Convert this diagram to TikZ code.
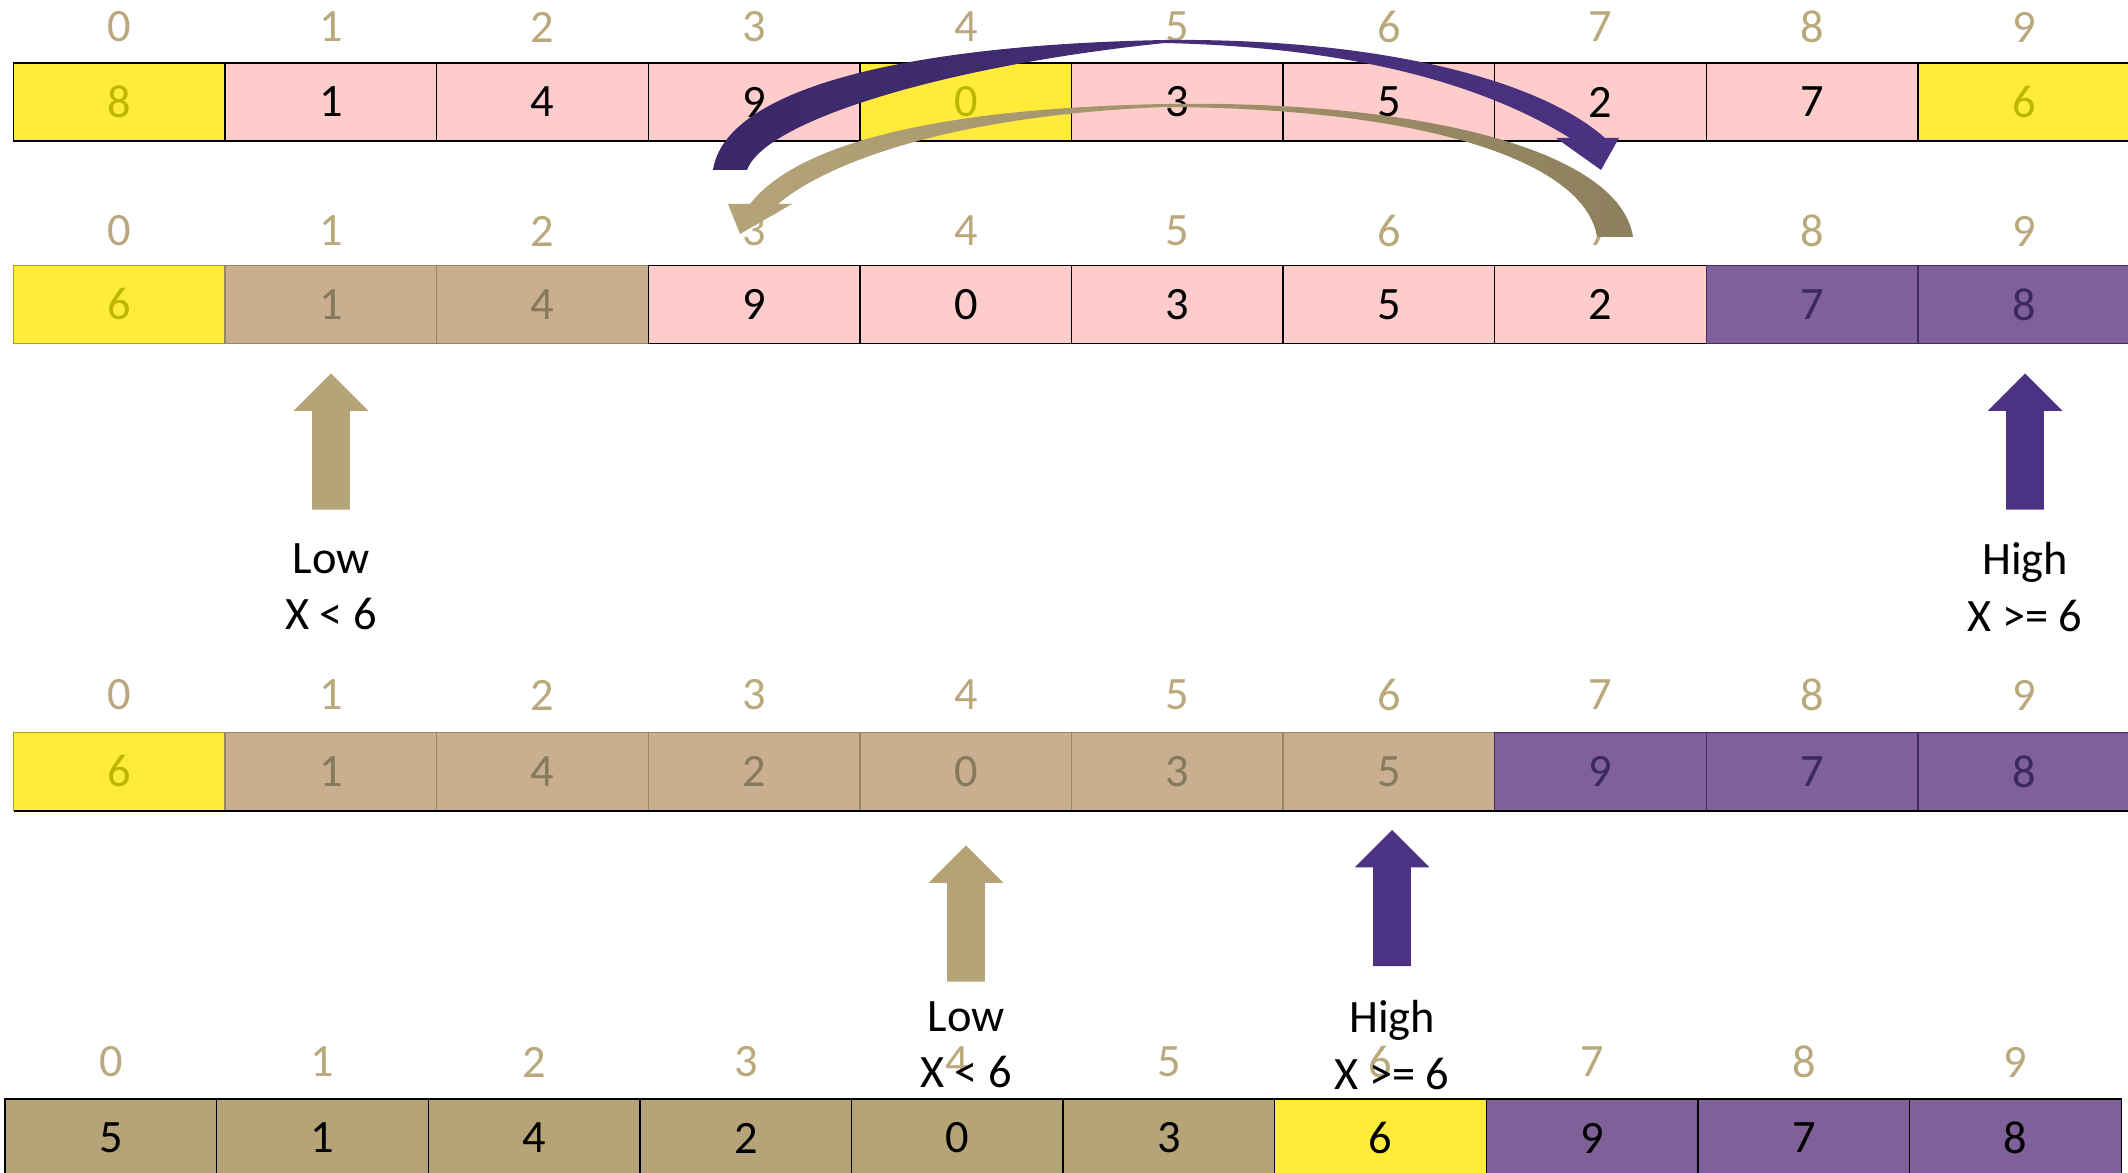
\documentclass[tikz,border=0pt]{standalone}
\usepackage{fontspec}
\setmainfont{Carlito}
\usetikzlibrary{shapes.arrows}

\definecolor{cyel}{RGB}{255,236,58}
\definecolor{cyeltxt}{RGB}{189,182,0}
\definecolor{cyelline}{RGB}{170,160,20}
\definecolor{cpink}{RGB}{255,204,204}
\definecolor{ctan}{RGB}{201,174,144}
\definecolor{ctantxt}{RGB}{133,122,90}
\definecolor{ctanline}{RGB}{150,135,100}
\definecolor{cvio}{RGB}{128,96,152}
\definecolor{cviotxt}{RGB}{58,40,95}
\definecolor{cvioline}{RGB}{64,45,100}
\definecolor{clow}{RGB}{181,164,120}
\definecolor{chigh}{RGB}{75,50,130}
\definecolor{cidx}{RGB}{186,169,124}
\tikzset{pix/.style={x=0.0125cm,y=-0.0125cm,font=\fontsize{16.5}{20}\selectfont}}
\tikzset{cell/.style={draw=black,line width=0.5pt,minimum width=2.645cm,minimum height=0.975cm,inner sep=0pt},
         celly/.style={cell,fill=cyel,draw=cyelline,text=cyeltxt},
         cellyk/.style={cell,fill=cyel,text=cyeltxt},
         cellp/.style={cell,fill=cpink,text=black},
         cellt/.style={cell,fill=ctan,draw=ctanline,text=ctantxt},
         cellv/.style={cell,fill=cvio,draw=cvioline,text=cviotxt},
         cellb/.style={cell,fill=clow,text=black},
         cellyb/.style={cell,fill=cyel,text=black},
         cellvb/.style={cell,fill=cvio,text=black},
         idx/.style={text=cidx},
         upar/.style={single arrow,shape border rotate=90,draw=none,inner sep=0.23cm,
                      minimum height=1.7cm,single arrow head extend=0.23cm},
         tag/.style={align=center,text=black}}

\begin{document}
\begin{tikzpicture}[pix]
    \useasboundingbox (0,0) rectangle (2128,1173);
    \clip (0,0) rectangle (2128,1173);
    % row 1: pivot chosen
    \foreach \v/\s [count=\i from 0] in {8/cellyk,1/cellp,4/cellp,9/cellp,0/cellyk,3/cellp,5/cellp,2/cellp,7/cellp,6/cellyk} {
        \node[\s] (a\i) at ({119.4+211.6*\i},102) {\v};
        \node[idx] (ia\i) at ({119.4+211.6*\i},27) {\i};
    }
    % row 2: after swaps
    \foreach \v/\s [count=\i from 0] in {6/celly,1/cellt,4/cellt,9/cellp,0/cellp,3/cellp,5/cellp,2/cellp,7/cellv,8/cellv} {
        \node[\s] (b\i) at ({119.4+211.6*\i},304.5) {\v};
        \node[idx] (ib\i) at ({119.4+211.6*\i},231) {\i};
    }
    % row 3: partitioned
    \foreach \v/\s [count=\i from 0] in {6/celly,1/cellt,4/cellt,2/cellt,0/cellt,3/cellt,5/cellt,9/cellv,7/cellv,8/cellv} {
        \node[\s] (c\i) at ({119.4+211.6*\i},771.5) {\v};
        \node[idx] (ic\i) at ({119.4+211.6*\i},695) {\i};
    }
    \draw[line width=0.8pt] (13.6,811) -- (2128,811);
    % row 4: pivot in place
    \foreach \v/\s [count=\i from 0] in {5/cellb,1/cellb,4/cellb,2/cellb,0/cellb,3/cellb,6/cellyb,9/cellvb,7/cellvb,8/cellvb} {
        \node[\s] (d\i) at ({111+211.6*\i},1138) {\v};
        \node[idx] (id\i) at ({111+211.6*\i},1062) {\i};
    }
    % swap arrows
    \shade[left color=clow,right color=clow!78!black]
        (750,204) .. controls (800,140) and (950,108) .. (1165,104)
        .. controls (1420,100) and (1620,150) .. (1633,237) -- (1597,237)
        .. controls (1585,160) and (1420,108) .. (1165,107)
        .. controls (960,115) and (830,160) .. (778,204)
        -- (792,204) -- (740,234) -- (728,204) -- cycle;
    \shade[left color=chigh!80!black,right color=chigh]
        (713,170) .. controls (725,90) and (900,45) .. (1165,40)
        .. controls (1380,38) and (1540,80) .. (1605,138)
        -- (1619,138) -- (1601,170) -- (1556,138) -- (1570,138)
        .. controls (1500,95) and (1380,48) .. (1165,43)
        .. controls (950,65) and (765,120) .. (747,170) -- cycle;
    % low / high pointers
    \node[upar,fill=clow]  (lowa)  at (331,451) {};
    \node[upar,fill=chigh] (higha) at (2025,451) {};
    \node[tag] (lowt)  at (331,587)  {Low\\X < 6};
    \node[tag] (hight) at (2025,587) {High\\X >= 6};
    \node[upar,fill=clow]  (lowb)  at (966,923) {};
    \node[upar,fill=chigh] (highb) at (1392,907.5) {};
    \node[tag] (lowu)  at (966,1045)  {Low\\X < 6};
    \node[tag] (highu) at (1392,1045) {High\\X >= 6};
\end{tikzpicture}
\end{document}
